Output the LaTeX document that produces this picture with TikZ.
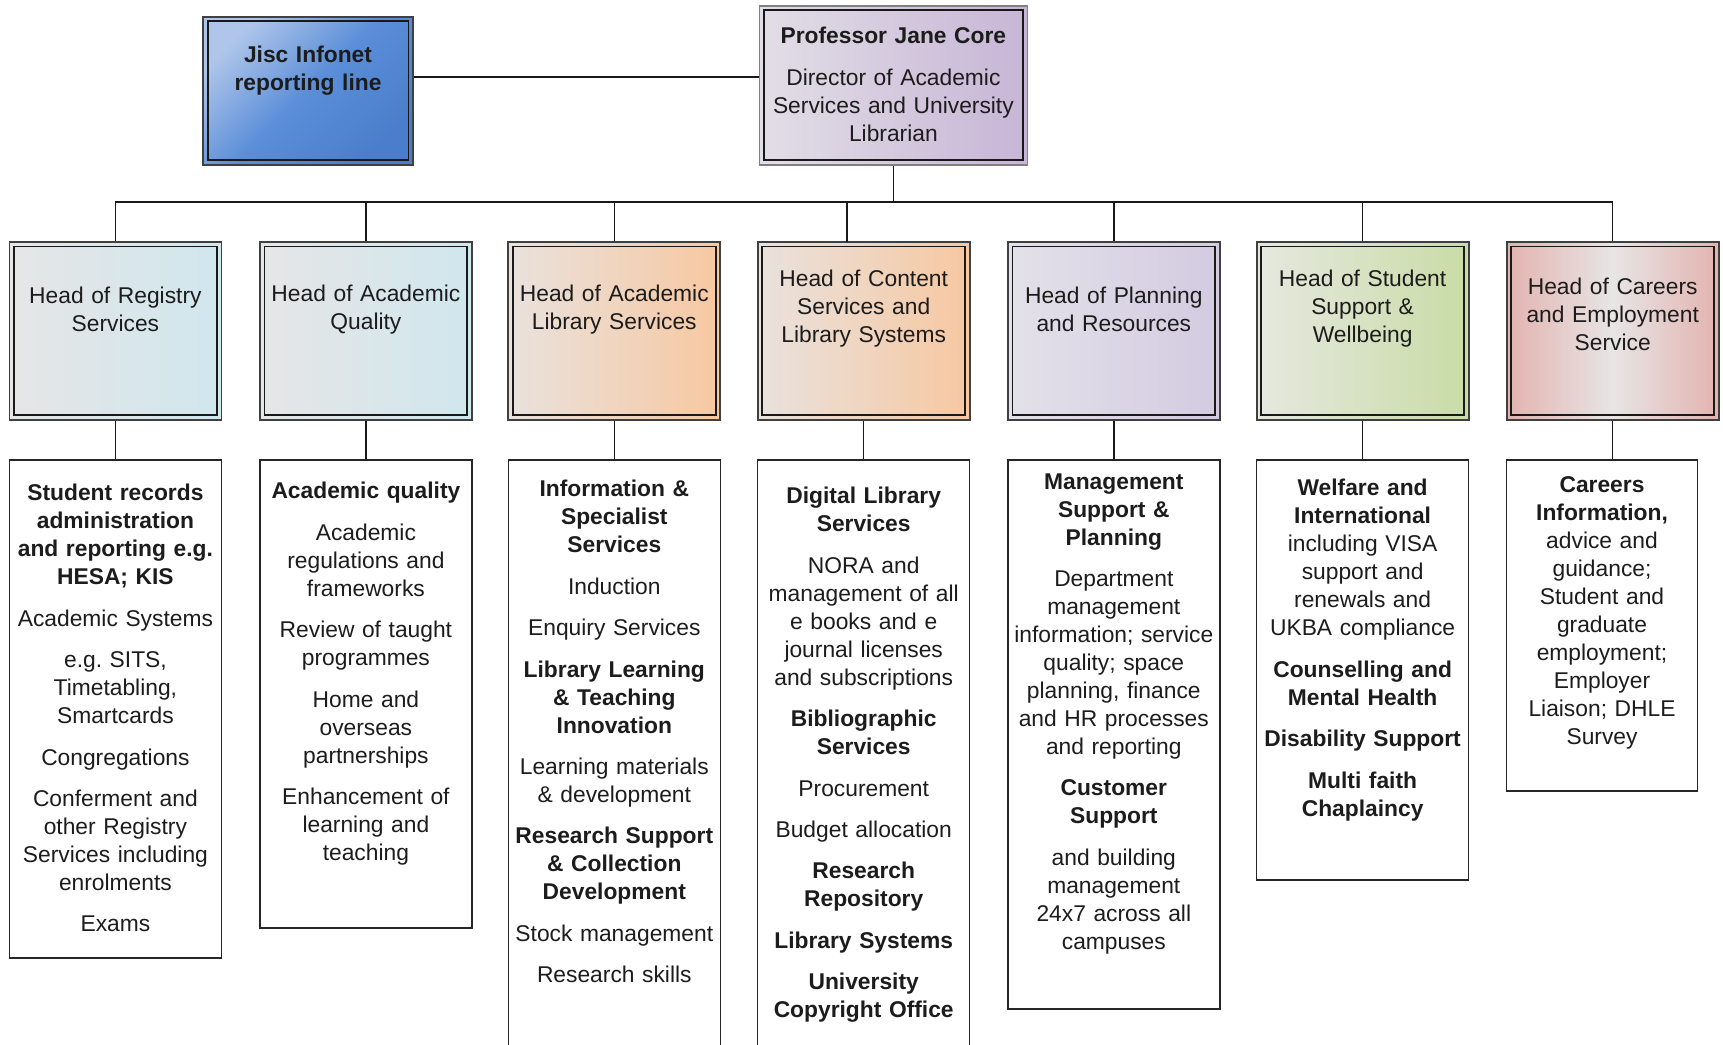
\documentclass[tikz,border=0pt]{standalone}
\usepackage{fontspec}
\setmainfont{Liberation Sans}
\usepackage{tikz}
\usetikzlibrary{positioning}

\definecolor{ink}{HTML}{1C1C1C}
\definecolor{jisclight}{HTML}{AFC6EA}
\definecolor{jiscblue}{HTML}{5B8ED8}
\definecolor{jiscdark}{HTML}{4A7ECC}
\definecolor{lilacA}{HTML}{E2DEE6}
\definecolor{lilacB}{HTML}{C7B5D6}
\definecolor{greyA}{HTML}{E6E6E6}
\definecolor{iceB}{HTML}{D0E7EE}
\definecolor{peachA}{HTML}{E9E2DE}
\definecolor{peachB}{HTML}{F7C8A1}
\definecolor{mauveA}{HTML}{E3E1E9}
\definecolor{mauveB}{HTML}{D3CBE1}
\definecolor{sageA}{HTML}{E6E8E0}
\definecolor{sageB}{HTML}{C9DCA6}
\definecolor{roseA}{HTML}{E3B3AF}
\definecolor{roseM}{HTML}{E7E5E5}

\begin{document}
\begin{tikzpicture}[x=0.5pt, y=-0.5pt,
    every node/.append style={text=ink, font=\fontsize{11.4}{14}\selectfont},
    frame/.style={draw=black!75, line width=0.9pt, inner sep=0pt,
      path picture={\draw[black!90, line width=0.9pt]
        ([shift={(2.3pt,2.3pt)}]path picture bounding box.south west) rectangle
        ([shift={(-2.3pt,-2.3pt)}]path picture bounding box.north east);}},
    headbox/.style={frame, minimum width=106pt, minimum height=89pt},
    headtext/.style={align=center, text width=104pt, inner sep=0pt},
    listbox/.style={draw=black!85, line width=0.75pt, anchor=north,
      minimum width=106pt, inner sep=0pt},
    listtext/.style={align=center, text width=105pt, inner sep=0pt},
    link/.style={draw=black!90, line width=0.75pt}]

\useasboundingbox (0,0) rectangle (1723,1044);

% top row
\node[frame, minimum width=105pt, minimum height=74pt, top color=jisclight,
  bottom color=jiscdark, middle color=jiscblue, shading angle=45] (jisc) at (308,90.7) {};
\node[headtext, font=\fontsize{11.4}{14.3}\selectfont\bfseries] (jisct) at ([yshift=10pt]jisc.center)
  {Jisc Infonet\\reporting line};

\node[frame, draw=black!50, minimum width=134pt, minimum height=79.5pt, left color=lilacA,
  right color=lilacB] (dir) at (893.4,85.2) {};
\node[headtext, text width=132pt] (dirt) at ([yshift=0.5pt]dir.center)
  {{\bfseries Professor Jane Core}\\[7pt]Director of Academic\\Services and University\\Librarian};

% heads
\node[headbox, left color=greyA, right color=iceB] (h1) at (115.4,330.8) {};
\node[headbox, left color=greyA, right color=iceB] (h2) at (365.9,330.8) {};
\node[headbox, left color=peachA, right color=peachB] (h3) at (614.3,330.8) {};
\node[headbox, left color=peachA, right color=peachB] (h4) at (863.7,330.8) {};
\node[headbox, left color=mauveA, right color=mauveB] (h5) at (1113.8,330.8) {};
\node[headbox, left color=sageA, right color=sageB] (h6) at (1362.6,330.8) {};
\node[headbox, left color=roseA, right color=roseA, middle color=roseM] (h7) at (1612.7,330.8) {};

\node[headtext] (h1t) at ([yshift=10.5pt]h1.center) {Head of Registry\\Services};
\node[headtext] (h2t) at ([yshift=10.5pt]h2.center) {Head of Academic\\Quality};
\node[headtext] (h3t) at ([yshift=10.5pt]h3.center) {Head of Academic\\Library Services};
\node[headtext] (h4t) at ([yshift=11pt]h4.center) {Head of Content\\Services and\\Library Systems};
\node[headtext] (h5t) at ([yshift=10.5pt]h5.center) {Head of Planning\\and Resources};
\node[headtext] (h6t) at ([yshift=11pt]h6.center) {Head of Student\\Support \&\\Wellbeing};
\node[headtext] (h7t) at ([yshift=8pt]h7.center) {Head of Careers\\and Employment\\Service};

% lists under each head
\node[listbox, minimum height=249pt] (d1) at (115.4,459) {};
\node[listbox, minimum height=234pt] (d2) at (365.9,459) {};
\node[listbox, minimum height=300pt] (d3) at (614.3,459) {};
\node[listbox, minimum height=300pt] (d4) at (863.7,459) {};
\node[listbox, minimum height=274.5pt] (d5) at (1113.8,459) {};
\node[listbox, minimum height=210pt] (d6) at (1362.6,459) {};
\node[listbox, minimum height=165.5pt, minimum width=95.5pt] (d7) at (1602,459) {};

\node[listtext, below=12.5pt of d1.north] (d1t) {
  {\bfseries Student records\\administration\\and reporting e.g.\\HESA; KIS}\\[6.7pt]
  Academic Systems\\[6.7pt]
  e.g.\ SITS,\\Timetabling,\\Smartcards\\[6.7pt]
  Congregations\\[6.7pt]
  Conferment and\\other Registry\\Services including\\enrolments\\[6.7pt]
  Exams};
\node[listtext, below=11.5pt of d2.north] (d2t) {
  {\bfseries Academic quality}\\[6.7pt]
  Academic\\regulations and\\frameworks\\[6.7pt]
  Review of taught\\programmes\\[6.7pt]
  Home and\\overseas\\partnerships\\[6.7pt]
  Enhancement of\\learning and\\teaching};
\node[listtext, below=10.5pt of d3.north] (d3t) {
  {\bfseries Information \&\\Specialist\\Services}\\[6.7pt]
  Induction\\[6.7pt]
  Enquiry Services\\[6.7pt]
  {\bfseries Library Learning\\\& Teaching\\Innovation}\\[6.7pt]
  Learning materials\\\& development\\[6.7pt]
  {\bfseries Research Support\\\& Collection\\Development}\\[6.7pt]
  Stock management\\[6.7pt]
  Research skills};
\node[listtext, below=14pt of d4.north] (d4t) {
  {\bfseries Digital Library\\Services}\\[6.7pt]
  NORA and\\management of all\\e books and e\\journal licenses\\and subscriptions\\[6.7pt]
  {\bfseries Bibliographic\\Services}\\[6.7pt]
  Procurement\\[6.7pt]
  Budget allocation\\[6.7pt]
  {\bfseries Research\\Repository}\\[6.7pt]
  {\bfseries Library Systems}\\[6.7pt]
  {\bfseries University\\Copyright Office}};
\node[listtext, below=7pt of d5.north] (d5t) {
  {\bfseries Management\\Support \&\\Planning}\\[6.7pt]
  Department\\management\\information; service\\quality; space\\planning, finance\\and HR processes\\and reporting\\[6.7pt]
  {\bfseries Customer\\Support}\\[6.7pt]
  and building\\management\\24x7 across all\\campuses};
\node[listtext, below=10pt of d6.north] (d6t) {
  {\bfseries Welfare and\\International}\\including VISA\\support and\\renewals and\\UKBA compliance\\[6.7pt]
  {\bfseries Counselling and\\Mental Health}\\[6.7pt]
  {\bfseries Disability Support}\\[6.7pt]
  {\bfseries Multi faith\\Chaplaincy}};
\node[listtext, text width=94pt, below=8.5pt of d7.north] (d7t) {
  {\bfseries Careers\\Information,}\\advice and\\guidance;\\Student and\\graduate\\employment;\\Employer\\Liaison; DHLE\\Survey};

% connectors
\coordinate (rline) at (600,77);
\coordinate (bar) at (893.4,202);
\coordinate (h4top) at (847,242);
\draw[link] (jisc.east |- rline) -- (dir.west |- rline);
\draw[link] (dir.south) -- (bar);
\draw[link] (h1.north) -- (h1.north |- bar) -- (h7.north |- bar) -- (h7.north);
\foreach \h in {h2,h3,h5,h6}
  \draw[link] (\h.north) -- (\h.north |- bar);
\draw[link] (h4top) -- (h4top |- bar);
\foreach \i in {1,...,6}
  \draw[link] (h\i.south) -- (d\i.north);
\draw[link] (h7.south) -- (h7.south |- d7.north);
\end{tikzpicture}
\end{document}
